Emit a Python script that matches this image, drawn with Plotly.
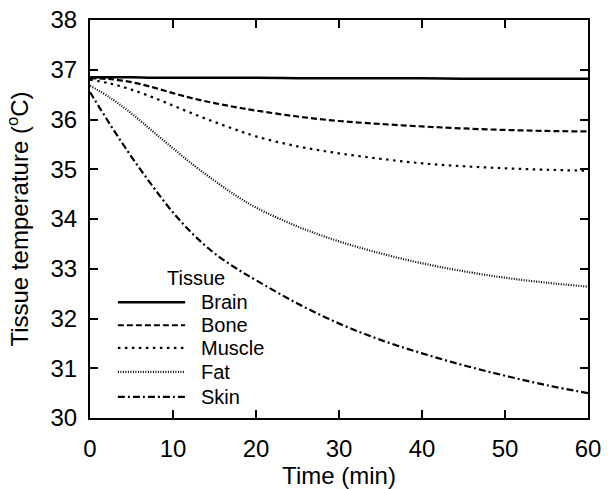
import plotly.graph_objects as go

# ---- data ----
time_min = [0, 2.5, 5, 7.5, 10, 12.5, 15, 17.5, 20, 25, 30, 35, 40, 45, 50, 55, 60]
brain = [36.85, 36.85, 36.85, 36.84, 36.84, 36.84, 36.84, 36.84, 36.84, 36.83, 36.83, 36.83, 36.83, 36.82, 36.82, 36.82, 36.82]
bone = [36.83, 36.81, 36.75, 36.65, 36.53, 36.42, 36.33, 36.25, 36.18, 36.06, 35.97, 35.91, 35.86, 35.82, 35.79, 35.77, 35.76]
muscle = [36.80, 36.72, 36.60, 36.45, 36.28, 36.11, 35.95, 35.80, 35.66, 35.46, 35.32, 35.21, 35.12, 35.06, 35.02, 34.99, 34.97]
fat = [36.68, 36.43, 36.12, 35.77, 35.42, 35.08, 34.77, 34.48, 34.23, 33.85, 33.55, 33.31, 33.11, 32.95, 32.82, 32.72, 32.64]
skin = [36.55, 35.88, 35.25, 34.67, 34.13, 33.68, 33.31, 33.02, 32.77, 32.30, 31.90, 31.57, 31.30, 31.06, 30.85, 30.66, 30.50]

tissue_names = ["Brain", "Bone", "Muscle", "Fat", "Skin"]
tissue_values = [brain, bone, muscle, fat, skin]
dash_styles = ["solid", "6px,3px", "2.5px,4.5px", "1px,1.5px", "7px,3px,2px,3px"]
line_widths = [2.6, 2.2, 2.2, 2.2, 2.2]

x_ticks = [0, 10, 20, 30, 40, 50, 60]
y_ticks = [30, 31, 32, 33, 34, 35, 36, 37, 38]

FONT = "Liberation Sans, Arial, sans-serif"
FS = 24
LFS = 20

fig = go.Figure()
for name, vals, dash, lw in zip(tissue_names, tissue_values, dash_styles, line_widths):
    fig.add_trace(go.Scatter(
        x=time_min, y=vals, mode="lines", name=name,
        line=dict(color="black", width=lw, dash=dash, shape="spline", smoothing=1.0),
        showlegend=False,
    ))

# manual legend (gnuplot-like compact key)
leg_x0, leg_x1, leg_tx = 0.056, 0.191, 0.219
leg_y = [0.291, 0.233, 0.176, 0.116, 0.053]
for name, dash, lw, yy in zip(tissue_names, dash_styles, line_widths, leg_y):
    fig.add_shape(type="line", xref="paper", yref="paper",
                  x0=leg_x0, x1=leg_x1, y0=yy, y1=yy,
                  line=dict(color="black", width=lw, dash=dash))
    fig.add_annotation(xref="paper", yref="paper", x=leg_tx, y=yy,
                       text=name, showarrow=False, xanchor="left", yanchor="middle",
                       font=dict(family=FONT, size=LFS, color="black"))
fig.add_annotation(xref="paper", yref="paper", x=0.213, y=0.352,
                   text="Tissue", showarrow=False, xanchor="center", yanchor="middle",
                   font=dict(family=FONT, size=LFS, color="black"))

axis_common = dict(
    showline=True, linecolor="black", linewidth=2, mirror="allticks",
    ticks="inside", ticklen=8, tickwidth=1.5, tickcolor="black",
    showgrid=False, zeroline=False,
    tickfont=dict(family=FONT, size=FS, color="black"),
)
fig.update_xaxes(range=[0, 60], tickvals=x_ticks, ticklabelstandoff=8,
                 title=dict(text="Time (min)", font=dict(family=FONT, size=FS, color="black")),
                 **axis_common)
fig.update_yaxes(range=[30, 38], tickvals=y_ticks, ticklabelstandoff=6,
                 title=dict(text="Tissue temperature (<sup>o</sup>C)", font=dict(family=FONT, size=FS, color="black")),
                 **axis_common)

fig.update_layout(
    width=608, height=489,
    margin=dict(l=90, r=20, t=20, b=71, autoexpand=False),
    paper_bgcolor="white", plot_bgcolor="white",
    font=dict(family=FONT, size=FS, color="black"),
)
fig.write_html("out.html")
